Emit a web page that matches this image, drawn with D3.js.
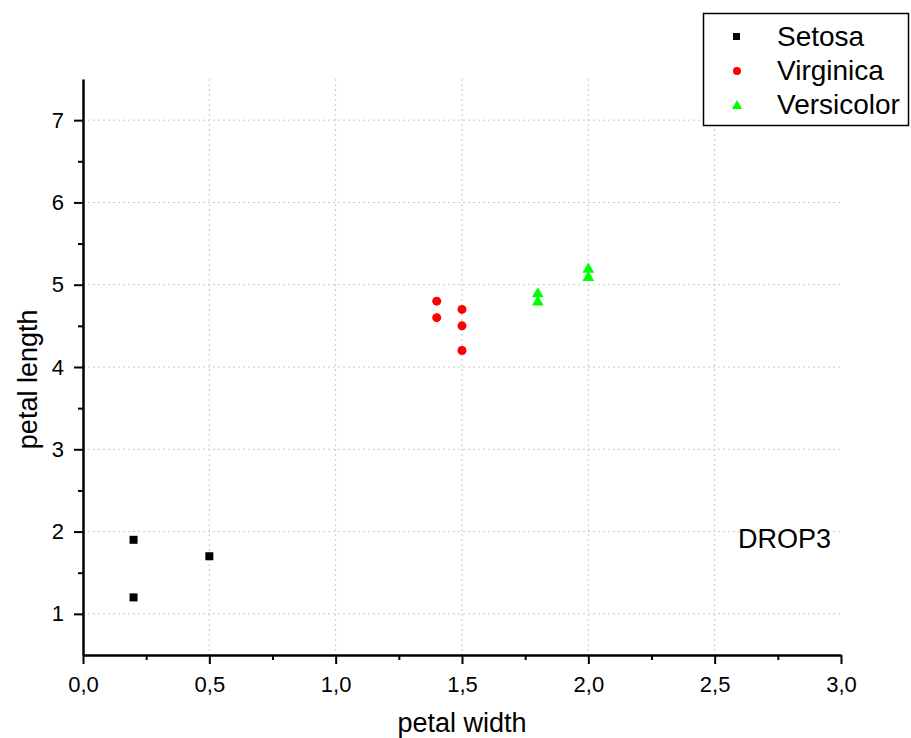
<!DOCTYPE html>
<html>
<head>
<meta charset="utf-8">
<script src="https://cdn.jsdelivr.net/npm/d3@7"></script>
<style>
  body { margin: 0; background: #fff; }
  svg { font-family: "Liberation Sans", Arial, sans-serif; }
</style>
</head>
<body>
<div id="chart"></div>
<script>
// data: petal width (x) vs petal length (y)
var seriesNames = ["Setosa", "Virginica", "Versicolor"];
var setosaWidth = [0.2, 0.2, 0.5];
var setosaLength = [1.9, 1.2, 1.7];
var virginicaWidth = [1.4, 1.4, 1.5, 1.5, 1.5];
var virginicaLength = [4.8, 4.6, 4.7, 4.5, 4.2];
var versicolorWidth = [1.8, 1.8, 2.0, 2.0];
var versicolorLength = [4.9, 4.8, 5.2, 5.1];
var xTicks = [0, 0.5, 1.0, 1.5, 2.0, 2.5, 3.0];
var yTicks = [1, 2, 3, 4, 5, 6, 7];

function draw() {
    var width = 911, height = 738;
    var plotLeft = 83, plotRight = 841, plotTop = 79, plotBottom = 655;

    var svg = d3.select("#chart").append("svg")
        .attr("width", width)
        .attr("height", height);

    var x = d3.scaleLinear().domain([0, 3]).range([plotLeft, plotRight]);
    var y = d3.scaleLinear().domain([0.5, 7.5]).range([plotBottom, plotTop]);

    // dotted grid
    svg.append("g").selectAll("line")
        .data(xTicks.filter(function(d){ return d > 0 && d < 3; }))
        .enter().append("line")
        .attr("x1", function(d){ return x(d); })
        .attr("x2", function(d){ return x(d); })
        .attr("y1", plotTop).attr("y2", plotBottom)
        .attr("stroke", "#c8c8c8").attr("stroke-dasharray", "2,3");

    svg.append("g").selectAll("line")
        .data(yTicks)
        .enter().append("line")
        .attr("y1", function(d){ return y(d); })
        .attr("y2", function(d){ return y(d); })
        .attr("x1", plotLeft).attr("x2", plotRight)
        .attr("stroke", "#c8c8c8").attr("stroke-dasharray", "2,3");

    // axes: major + minor ticks
    var xMinor = d3.range(0.25, 3, 0.5);
    var yMinor = d3.range(1.5, 7.5, 1);

    svg.append("g")
        .attr("transform", "translate(0," + plotBottom + ")")
        .call(d3.axisBottom(x).tickValues(xMinor).tickSize(5).tickFormat(""))
        .call(function(g){ g.select(".domain").remove(); })
        .selectAll("line").attr("stroke-width", 2);

    var xAxis = svg.append("g")
        .attr("transform", "translate(0," + plotBottom + ")")
        .call(d3.axisBottom(x).tickValues(xTicks).tickSize(9).tickSizeOuter(0)
            .tickFormat(function(d){ return d3.format(".1f")(d).replace(".", ","); }));
    xAxis.attr("font-size", 22).attr("font-family", null);
    xAxis.select(".domain").attr("stroke-width", 2.5);
    xAxis.selectAll("line").attr("stroke-width", 2);
    xAxis.selectAll("text").attr("dy", "1.15em").attr("fill", "#000");

    svg.append("g")
        .attr("transform", "translate(" + plotLeft + ",0)")
        .call(d3.axisLeft(y).tickValues(yMinor).tickSize(5).tickFormat(""))
        .call(function(g){ g.select(".domain").remove(); })
        .selectAll("line").attr("stroke-width", 2);

    var yAxis = svg.append("g")
        .attr("transform", "translate(" + plotLeft + ",0)")
        .call(d3.axisLeft(y).tickValues(yTicks).tickSize(9).tickSizeOuter(0)
            .tickFormat(d3.format("d")));
    yAxis.attr("font-size", 22).attr("font-family", null);
    yAxis.select(".domain").attr("stroke-width", 2.5);
    yAxis.selectAll("line").attr("stroke-width", 2);
    yAxis.selectAll("text").attr("x", -19).attr("fill", "#000");

    // axis titles
    svg.append("text")
        .attr("x", (plotLeft + plotRight) / 2).attr("y", 732)
        .attr("text-anchor", "middle").attr("font-size", 27)
        .text("petal width");

    svg.append("text")
        .attr("transform", "translate(37," + y(3.85) + ") rotate(-90)")
        .attr("text-anchor", "middle").attr("font-size", 27)
        .text("petal length");

    // markers
    var tri = d3.symbol().type(d3.symbolTriangle).size(60);

    svg.append("g").selectAll("rect")
        .data(d3.zip(setosaWidth, setosaLength))
        .enter().append("rect")
        .attr("x", function(d){ return x(d[0]) - 4; })
        .attr("y", function(d){ return y(d[1]) - 4; })
        .attr("width", 8).attr("height", 8)
        .attr("fill", "#000");

    svg.append("g").selectAll("circle")
        .data(d3.zip(virginicaWidth, virginicaLength))
        .enter().append("circle")
        .attr("cx", function(d){ return x(d[0]); })
        .attr("cy", function(d){ return y(d[1]); })
        .attr("r", 4.5)
        .attr("fill", "#ff0000");

    svg.append("g").selectAll("path")
        .data(d3.zip(versicolorWidth, versicolorLength))
        .enter().append("path")
        .attr("d", tri)
        .attr("transform", function(d){ return "translate(" + x(d[0]) + "," + (y(d[1]) + 1) + ")"; })
        .attr("fill", "#00ff00");

    // annotation
    svg.append("text")
        .attr("x", 738).attr("y", 548)
        .attr("font-size", 27)
        .text("DROP3");

    // legend
    var legend = svg.append("g");
    legend.append("rect")
        .attr("x", 703.5).attr("y", 13.5)
        .attr("width", 205).attr("height", 112)
        .attr("fill", "#fff").attr("stroke", "#000").attr("stroke-width", 1.5);

    var legendRows = legend.selectAll("g.row")
        .data(seriesNames)
        .enter().append("g")
        .attr("transform", function(d, i){ return "translate(0," + (36 + i * 34) + ")"; });

    legendRows.each(function(d, i){
        var g = d3.select(this);
        if (i === 0) {
            g.append("rect").attr("x", 733).attr("y", -3).attr("width", 7).attr("height", 7).attr("fill", "#000");
        } else if (i === 1) {
            g.append("circle").attr("cx", 737).attr("cy", 1).attr("r", 4).attr("fill", "#ff0000");
        } else {
            g.append("path").attr("d", d3.symbol().type(d3.symbolTriangle).size(45))
                .attr("transform", "translate(737,2)").attr("fill", "#00ff00");
        }
        g.append("text")
            .attr("x", 777).attr("y", 10)
            .attr("font-size", 28)
            .text(d);
    });
}

draw();
</script>
</body>
</html>
